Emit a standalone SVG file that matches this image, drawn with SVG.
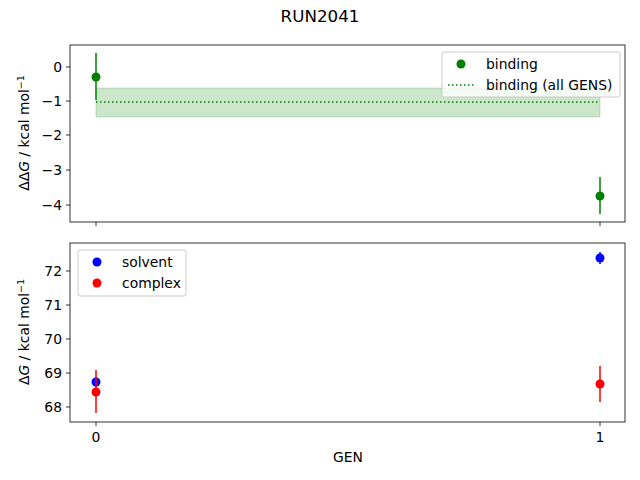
<svg xmlns="http://www.w3.org/2000/svg" width="640" height="480" viewBox="0 0 640 480">
<style>
text{font-family:"DejaVu Sans",sans-serif;font-size:13.9px;fill:#000}
.ax{fill:none;stroke:#000;stroke-width:0.8}
.tk{stroke:#000;stroke-width:0.8}
.leg{fill:#fff;fill-opacity:0.8;stroke:#ccc;stroke-width:1}
.sup{font-size:9.5px}
</style>
<rect width="640" height="480" fill="#fff"/>
<text x="320" y="22" text-anchor="middle" style="font-size:16.7px">RUN2041</text>
<g id="top">
<rect x="96" y="88" width="504" height="29" fill="#008000" fill-opacity="0.2" stroke="#008000" stroke-opacity="0.2"/>
<line x1="96" y1="102" x2="600" y2="102" stroke="#008000" stroke-width="1.5" stroke-dasharray="1.5,2.5"/>
<line x1="96" y1="53" x2="96" y2="100" stroke="#008000" stroke-width="1.5"/>
<circle cx="96" cy="77" r="4.5" fill="#008000"/>
<line x1="600" y1="177" x2="600" y2="214" stroke="#008000" stroke-width="1.5"/>
<circle cx="600" cy="196" r="4.5" fill="#008000"/>
<rect class="ax" x="70" y="45" width="555" height="177"/>
<g class="tk"><line x1="66" y1="67" x2="70" y2="67"/><line x1="66" y1="101" x2="70" y2="101"/><line x1="66" y1="135" x2="70" y2="135"/><line x1="66" y1="170" x2="70" y2="170"/><line x1="66" y1="205" x2="70" y2="205"/><line x1="96" y1="222" x2="96" y2="226"/><line x1="600" y1="222" x2="600" y2="226"/></g>
<g text-anchor="end"><text x="62" y="72">0</text><text x="62" y="106">−1</text><text x="62" y="140">−2</text><text x="62" y="175">−3</text><text x="62" y="210">−4</text></g>
<text transform="translate(29,133) rotate(-90)" text-anchor="middle">ΔΔ<tspan font-style="italic">G</tspan> / kcal mol<tspan dy="-5" class="sup">−1</tspan></text>
<rect class="leg" x="442" y="52" width="178" height="45" rx="2"/>
<circle cx="461" cy="64" r="4.5" fill="#008000"/>
<text x="486" y="69">binding</text>
<line x1="448" y1="85" x2="476" y2="85" stroke="#008000" stroke-width="1.5" stroke-dasharray="1.5,2.5"/>
<text x="486" y="90">binding (all GENS)</text>
</g>
<g id="bottom">
<line x1="96" y1="377" x2="96" y2="387" stroke="#0000ff" stroke-width="1.5"/>
<circle cx="96" cy="382" r="4.5" fill="#0000ff"/>
<line x1="96" y1="370" x2="96" y2="413" stroke="#ff0000" stroke-width="1.5"/>
<circle cx="96" cy="392" r="4.5" fill="#ff0000"/>
<line x1="600" y1="252" x2="600" y2="264" stroke="#0000ff" stroke-width="1.5"/>
<circle cx="600" cy="258" r="4.5" fill="#0000ff"/>
<line x1="600" y1="366" x2="600" y2="402" stroke="#ff0000" stroke-width="1.5"/>
<circle cx="600" cy="384" r="4.5" fill="#ff0000"/>
<rect class="ax" x="70" y="243" width="555" height="179"/>
<g class="tk"><line x1="66" y1="271" x2="70" y2="271"/><line x1="66" y1="305" x2="70" y2="305"/><line x1="66" y1="339" x2="70" y2="339"/><line x1="66" y1="373" x2="70" y2="373"/><line x1="66" y1="407" x2="70" y2="407"/><line x1="96" y1="422" x2="96" y2="426"/><line x1="600" y1="422" x2="600" y2="426"/></g>
<g text-anchor="end"><text x="62" y="276">72</text><text x="62" y="310">71</text><text x="62" y="344">70</text><text x="62" y="378">69</text><text x="62" y="412">68</text></g>
<text x="96" y="442" text-anchor="middle">0</text>
<text x="600" y="442" text-anchor="middle">1</text>
<text x="348" y="462" text-anchor="middle">GEN</text>
<text transform="translate(29,332) rotate(-90)" text-anchor="middle">Δ<tspan font-style="italic">G</tspan> / kcal mol<tspan dy="-5" class="sup">−1</tspan></text>
<rect class="leg" x="78" y="250" width="108" height="46" rx="2"/>
<circle cx="97" cy="262" r="4.5" fill="#0000ff"/>
<text x="122" y="267">solvent</text>
<circle cx="97" cy="283" r="4.5" fill="#ff0000"/>
<text x="122" y="288">complex</text>
</g>
</svg>
